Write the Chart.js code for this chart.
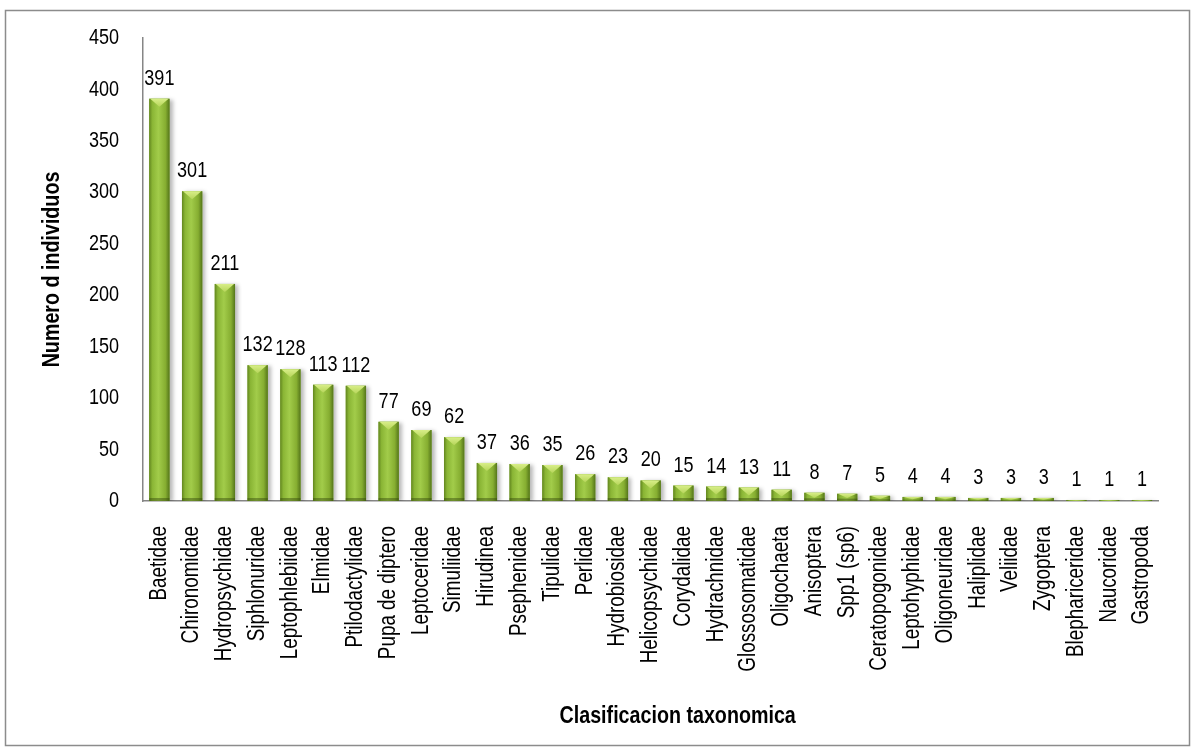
<!DOCTYPE html>
<html>
<head>
<meta charset="utf-8">
<script src="https://cdn.jsdelivr.net/npm/chart.js@4.4.1/dist/chart.umd.min.js"></script>
<style>
  html, body { margin: 0; padding: 0; background: #fff; }
  #wrap { width: 1195px; height: 751px; }
</style>
</head>
<body>
<div id="wrap"><canvas id="chart" width="1195" height="751"></canvas></div>
<script>
// taxa y conteos
const categorias = [
  "Baetidae", "Chironomidae", "Hydropsychidae", "Siphlonuridae", "Leptophlebiidae",
  "Elmidae", "Ptilodactylidae", "Pupa de diptero", "Leptoceridae", "Simuliidae",
  "Hirudinea", "Psephenidae", "Tipulidae", "Perlidae", "Hydrobiosidae",
  "Helicopsychidae", "Corydalidae", "Hydrachnidae", "Glossosomatidae", "Oligochaeta",
  "Anisoptera", "Spp1 (sp6)", "Ceratopogonidae", "Leptohyphidae", "Oligoneuridae",
  "Haliplidae", "Veliidae", "Zygoptera", "Blephariceridae", "Naucoridae", "Gastropoda"
];
const individuos = [
  391, 301, 211, 132, 128, 113, 112, 77, 69, 62,
  37, 36, 35, 26, 23, 20, 15, 14, 13, 11,
  8, 7, 5, 4, 4, 3, 3, 3, 1, 1, 1
];
const yMax = 450;
const yStep = 50;
const tituloX = "Clasificacion taxonomica";
const tituloY = "Numero d individuos";

const FONT = "'Liberation Sans', Arial, sans-serif";
const NARROW = 0.82; // el original usa una letra estrecha tipo Arial Narrow

const ctx = document.getElementById("chart").getContext("2d");

// no hay Arial Narrow instalada: se estrecha el texto a lo largo de su direccion
const origFillText = ctx.fillText.bind(ctx);
ctx.fillText = function(text, x, y, maxWidth) {
  this.save();
  this.translate(x, y);
  this.scale(NARROW, 1);
  if (maxWidth !== undefined) origFillText(text, 0, 0, maxWidth / NARROW);
  else origFillText(text, 0, 0);
  this.restore();
};

// marco gris alrededor del grafico
const framePlugin = {
  id: "frame",
  beforeDraw(chart) {
    const c = chart.ctx;
    c.save();
    c.fillStyle = "#fff";
    c.fillRect(0, 0, chart.width, chart.height);
    c.strokeStyle = "#8c8c8c";
    c.lineWidth = 1.5;
    c.strokeRect(5.5, 10.5, 1184, 735);
    c.restore();
  },
  afterDraw(chart) {
    // titulo del eje x (Excel lo deja un poco a la derecha del centro)
    const c = chart.ctx;
    const area = chart.chartArea;
    c.save();
    c.font = "bold 24px " + FONT;
    c.fillStyle = "#000";
    c.textAlign = "center";
    c.textBaseline = "alphabetic";
    c.fillText(tituloX, (area.left + area.right) / 2 + 27, 723);
    c.restore();
  }
};

// sombra + biselado de las barras (estilo Excel)
const bevelPlugin = {
  id: "bevel",
  beforeDatasetsDraw(chart) {
    const c = chart.ctx;
    c.save();
    c.shadowColor = "rgba(0,0,0,0.28)";
    c.shadowBlur = 4;
    c.shadowOffsetX = 3;
    c.shadowOffsetY = 1;
  },
  afterDatasetsDraw(chart) {
    const c = chart.ctx;
    c.restore();
    const meta = chart.getDatasetMeta(0);
    c.save();
    meta.data.forEach((bar) => {
      const w = bar.width;
      const left = bar.x - w / 2, right = bar.x + w / 2;
      const top = bar.y, bottom = bar.base;
      const h = bottom - top;
      if (h <= 0) return;
      const g = c.createLinearGradient(left, 0, right, 0);
      g.addColorStop(0, "#62861f");
      g.addColorStop(0.15, "#8ab535");
      g.addColorStop(0.45, "#a2cc4a");
      g.addColorStop(0.8, "#86ae31");
      g.addColorStop(1, "#55761a");
      c.fillStyle = g;
      c.fillRect(left, top, w, h);
      const sb = Math.min(3, h / 3);
      c.fillStyle = "rgba(50,70,10,0.45)";
      c.fillRect(left, bottom - sb, w, sb);
      const d = Math.min(8, h * 0.6);
      const tg = c.createLinearGradient(0, top, 0, top + d);
      tg.addColorStop(0, "#d8ee88");
      tg.addColorStop(1, "#b6d55a");
      c.fillStyle = tg;
      c.beginPath();
      c.moveTo(left + 1, top);
      c.lineTo(right - 1, top);
      c.lineTo(bar.x, top + d);
      c.closePath();
      c.fill();
    });
    c.restore();
  }
};

// etiquetas de valor encima de cada barra
const valueLabels = {
  id: "valueLabels",
  afterDatasetsDraw(chart) {
    const c = chart.ctx;
    const meta = chart.getDatasetMeta(0);
    c.save();
    c.font = "22px " + FONT;
    c.fillStyle = "#000";
    c.textAlign = "center";
    c.textBaseline = "alphabetic";
    meta.data.forEach((bar, i) => {
      c.fillText(String(individuos[i]), bar.x, bar.y - 14);
    });
    c.restore();
  }
};

const chart = new Chart(ctx, {
  type: "bar",
  data: {
    labels: categorias,
    datasets: [{
      label: tituloY,
      data: individuos,
      backgroundColor: "#8db83b",
      borderWidth: 0,
      barPercentage: 0.62,
      categoryPercentage: 1.0
    }]
  },
  options: {
    responsive: false,
    animation: false,
    devicePixelRatio: 1,
    layout: { padding: { left: 12, right: 27, top: 38, bottom: 14 } },
    plugins: {
      legend: { display: false },
      tooltip: { enabled: false }
    },
    scales: {
      x: {
        grid: { display: false, drawTicks: false },
        border: { display: true, color: "#868686", width: 1.5 },
        ticks: {
          autoSkip: false,
          maxRotation: 90,
          minRotation: 90,
          padding: 25,
          color: "#000",
          font: { family: FONT, size: 23 }
        },
        title: { display: false },
        afterFit(scale) { scale.height = 751 - 501 - 14; }
      },
      y: {
        min: 0,
        max: yMax,
        grid: { display: false, drawTicks: false },
        border: { display: true, color: "#868686", width: 1.5 },
        ticks: {
          stepSize: yStep,
          padding: 24,
          color: "#000",
          font: { family: FONT, size: 22 }
        },
        title: {
          display: true,
          text: tituloY,
          color: "#000",
          font: { family: FONT, size: 24, weight: "bold" },
          padding: { top: 26, bottom: 0 }
        },
        afterFit(scale) { scale.width = 143 - 12; }
      }
    }
  },
  plugins: [framePlugin, bevelPlugin, valueLabels]
});
</script>
</body>
</html>
